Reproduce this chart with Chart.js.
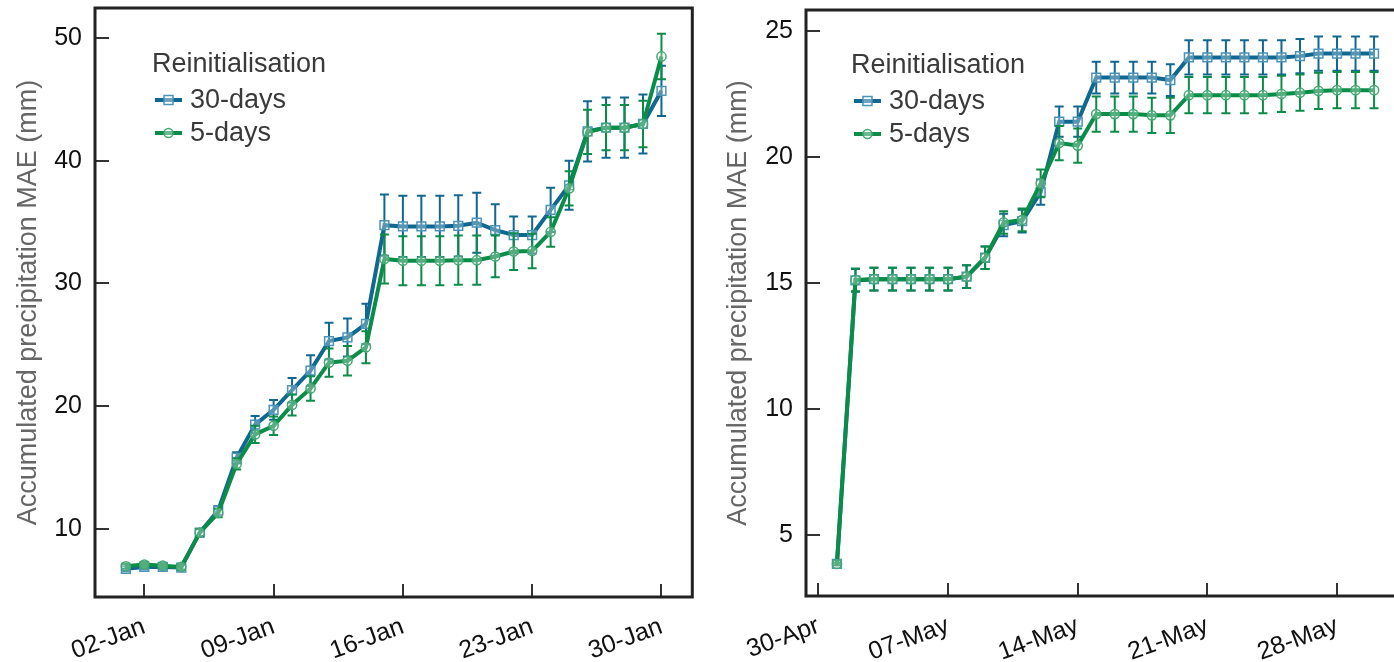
<!DOCTYPE html>
<html>
<head>
<meta charset="utf-8">
<script src="https://cdn.jsdelivr.net/npm/chart.js@4.4.1/dist/chart.umd.min.js"></script>
<style>
  html, body { margin: 0; padding: 0; background: #fff; overflow: hidden; }
  #left { position: absolute; left: 0; top: 0; }
  #right { position: absolute; left: 700px; top: 0; }
</style>
</head>
<body>
<canvas id="left" width="700" height="662"></canvas>
<canvas id="right" width="720" height="662"></canvas>
<script>
// day numbers (January / May)
const days = [1, 2, 3, 4, 5, 6, 7, 8, 9, 10, 11, 12, 13, 14, 15, 16, 17, 18, 19, 20, 21, 22, 23, 24, 25, 26, 27, 28, 29, 30];

// January panel
const jan30 = [6.75, 6.9, 6.9, 6.85, 9.7, 11.5, 15.8, 18.5, 19.7, 21.3, 22.9, 25.3, 25.6, 26.7, 34.75, 34.65, 34.65, 34.65, 34.7, 34.95, 34.35, 33.95, 33.95, 36.0, 38.0, 42.4, 42.7, 42.7, 43.0, 45.7];
const jan30Err = [0.2, 0.2, 0.2, 0.2, 0.3, 0.35, 0.45, 0.7, 0.8, 1.0, 1.25, 1.5, 1.55, 1.65, 2.5, 2.5, 2.5, 2.5, 2.5, 2.45, 2.1, 1.5, 1.5, 1.8, 2.0, 2.45, 2.45, 2.45, 2.4, 2.05];
const jan5 = [6.95, 7.1, 7.0, 6.9, 9.7, 11.3, 15.3, 17.7, 18.4, 20.1, 21.45, 23.55, 23.7, 24.8, 32.0, 31.85, 31.85, 31.85, 31.9, 31.9, 32.2, 32.6, 32.65, 34.2, 37.75, 42.35, 42.7, 42.7, 43.0, 48.5];
const jan5Err = [0.2, 0.2, 0.2, 0.2, 0.3, 0.35, 0.45, 0.7, 0.75, 0.85, 1.0, 1.15, 1.2, 1.3, 2.0, 2.0, 2.0, 2.0, 2.0, 2.0, 1.7, 1.5, 1.4, 1.2, 1.4, 1.8, 1.85, 1.85, 1.9, 1.85];
const janTickDays = [2, 9, 16, 23, 30];
const janTickLabels = ['02-Jan', '09-Jan', '16-Jan', '23-Jan', '30-Jan'];
const janYTicks = [10, 20, 30, 40, 50];

// May panel (day 0 = 30-Apr)
const may30 = [3.85, 15.1, 15.15, 15.15, 15.15, 15.15, 15.15, 15.25, 16.0, 17.3, 17.45, 18.6, 21.4, 21.4, 23.15, 23.15, 23.15, 23.15, 23.05, 23.95, 23.95, 23.95, 23.95, 23.95, 23.95, 24.0, 24.1, 24.1, 24.1, 24.1];
const may30Err = [0.05, 0.45, 0.45, 0.45, 0.45, 0.45, 0.45, 0.45, 0.45, 0.45, 0.45, 0.5, 0.6, 0.6, 0.63, 0.63, 0.63, 0.63, 0.63, 0.68, 0.68, 0.68, 0.68, 0.68, 0.68, 0.68, 0.68, 0.68, 0.68, 0.68];
const may5 = [3.85, 15.12, 15.15, 15.15, 15.15, 15.15, 15.15, 15.25, 16.0, 17.4, 17.5, 18.95, 20.55, 20.45, 21.7, 21.7, 21.7, 21.65, 21.65, 22.45, 22.45, 22.45, 22.45, 22.45, 22.5, 22.55, 22.62, 22.65, 22.65, 22.65];
const may5Err = [0.05, 0.45, 0.45, 0.45, 0.45, 0.45, 0.45, 0.45, 0.45, 0.45, 0.45, 0.55, 0.68, 0.68, 0.7, 0.7, 0.7, 0.7, 0.7, 0.72, 0.72, 0.72, 0.72, 0.72, 0.72, 0.72, 0.72, 0.72, 0.72, 0.72];
const mayTickDays = [0, 7, 14, 21, 28];
const mayTickLabels = ['30-Apr', '07-May', '14-May', '21-May', '28-May'];
const mayYTicks = [5, 10, 15, 20, 25];

const legendTitle = 'Reinitialisation';
const seriesNames = ['30-days', '5-days'];

const FONT = '"Liberation Sans", Arial, sans-serif';
const BLUE = '#10678f', BLUE_PT = '#4a93b9';
const GREEN = '#0b8c49', GREEN_PT = '#44a872';

// error bars, inward ticks, frame and legend
const decor = {
  id: 'decor',
  beforeDatasetDraw(chart, args) {
    const ds = chart.data.datasets[args.index];
    const { ctx, scales: { x, y } } = chart;
    ctx.save();
    ctx.strokeStyle = ds.borderColor;
    ctx.lineWidth = 2;
    ds.data.forEach((p, i) => {
      const e = ds.errors[i];
      const px = x.getPixelForValue(p.x);
      const top = y.getPixelForValue(p.y + e), bot = y.getPixelForValue(p.y - e);
      ctx.beginPath();
      ctx.moveTo(px, top); ctx.lineTo(px, bot);
      ctx.moveTo(px - 4.5, top); ctx.lineTo(px + 4.5, top);
      ctx.moveTo(px - 4.5, bot); ctx.lineTo(px + 4.5, bot);
      ctx.stroke();
    });
    ctx.restore();
  },
  afterDraw(chart, args, opts) {
    const { ctx, chartArea: a, scales: { x, y } } = chart;
    ctx.save();
    ctx.strokeStyle = '#333';
    ctx.lineWidth = 2;
    ctx.beginPath();
    x.ticks.forEach(t => {
      const px = Math.round(x.getPixelForValue(t.value));
      ctx.moveTo(px, a.bottom); ctx.lineTo(px, a.bottom - 13);
    });
    y.ticks.forEach(t => {
      const py = Math.round(y.getPixelForValue(t.value));
      ctx.moveTo(a.left, py); ctx.lineTo(a.left + 14, py);
    });
    ctx.stroke();
    ctx.strokeStyle = '#222';
    ctx.lineWidth = 3;
    ctx.strokeRect(a.left, a.top, a.right - a.left, a.bottom - a.top);

    // legend
    const lx = opts.x, ly = opts.y;
    ctx.fillStyle = '#3a3a3a';
    ctx.font = '27px ' + FONT;
    ctx.textBaseline = 'middle';
    ctx.textAlign = 'left';
    ctx.fillText(legendTitle, lx, ly);
    chart.data.datasets.forEach((ds, i) => {
      const yy = ly + 35 + 33 * i;
      const sx = lx + 3;
      ctx.strokeStyle = ds.borderColor;
      ctx.lineWidth = 4;
      ctx.beginPath(); ctx.moveTo(sx, yy); ctx.lineTo(sx + 27, yy); ctx.stroke();
      ctx.strokeStyle = ds.pointBorderColor;
      ctx.lineWidth = 1.5;
      ctx.fillStyle = 'rgba(255,255,255,0.4)';
      ctx.beginPath();
      if (ds.pointStyle === 'rect') ctx.rect(sx + 13.5 - 4.5, yy - 4.5, 9, 9);
      else ctx.arc(sx + 13.5, yy, 4.5, 0, Math.PI * 2);
      ctx.fill(); ctx.stroke();
      ctx.fillStyle = '#3a3a3a';
      ctx.fillText(ds.label, sx + 35, yy + 1);
    });
    ctx.restore();
  }
};

function series(label, vals, errs, color, ptColor, style, order) {
  return {
    label: label,
    data: days.map((d, i) => ({ x: d, y: vals[i] })),
    errors: errs,
    borderColor: color,
    borderWidth: 4,
    pointStyle: style,
    pointRadius: style === 'rect' ? 6.2 : 4.6,
    pointBorderColor: ptColor,
    pointBackgroundColor: 'rgba(255,255,255,0.3)',
    pointBorderWidth: 1.5,
    order: order,
    tension: 0
  };
}

function zeroPad(s) {
  s.paddingTop = 0; s.paddingBottom = 0; s.paddingLeft = 0; s.paddingRight = 0;
}

function makeChart(id, d30, e30, d5, e5, xmin, xmax, xTicks, xLabels, ymin, ymax, yTicks, yWidth, titlePad, padR, top, xHeight, legendPos) {
  new Chart(document.getElementById(id), {
    type: 'line',
    data: {
      datasets: [
        series(seriesNames[0], d30, e30, BLUE, BLUE_PT, 'rect', 2),
        series(seriesNames[1], d5, e5, GREEN, GREEN_PT, 'circle', 1)
      ]
    },
    options: {
      responsive: false,
      animation: false,
      layout: { padding: { top: top, right: padR, left: 0, bottom: 0 } },
      plugins: { legend: { display: false }, tooltip: { enabled: false }, decor: legendPos },
      scales: {
        x: {
          type: 'linear', min: xmin, max: xmax,
          grid: { display: false, drawTicks: false },
          border: { display: false },
          afterBuildTicks: s => { s.ticks = xTicks.map(v => ({ value: v })); },
          afterFit: s => { s.height = xHeight; zeroPad(s); },
          ticks: {
            autoSkip: false, maxRotation: 20, minRotation: 20, padding: 15,
            color: '#111', font: { family: FONT, size: 25 },
            callback: v => xLabels[xTicks.indexOf(v)]
          }
        },
        y: {
          min: ymin, max: ymax,
          grid: { display: false, drawTicks: false },
          border: { display: false },
          afterBuildTicks: s => { s.ticks = yTicks.map(v => ({ value: v })); },
          afterFit: s => { s.width = yWidth; zeroPad(s); },
          ticks: { padding: 13, color: '#111', font: { family: FONT, size: 25 } },
          title: {
            display: true, text: 'Accumulated precipitation MAE (mm)',
            color: '#666', font: { family: FONT, size: 27 }, padding: { top: titlePad, bottom: 2 }
          }
        }
      }
    },
    plugins: [decor]
  });
}

makeChart('left', jan30, jan30Err, jan5, jan5Err, -0.67, 31.67, janTickDays, janTickLabels,
  4.45, 52.45, janYTicks, 95, 12, 3, 8, 65, { x: 152, y: 65 });
makeChart('right', may30, may30Err, may5, may5Err, -0.67, 31.67, mayTickDays, mayTickLabels,
  2.58, 25.83, mayYTicks, 106, 22, 15, 10, 66, { x: 151, y: 66 });
</script>
</body>
</html>
